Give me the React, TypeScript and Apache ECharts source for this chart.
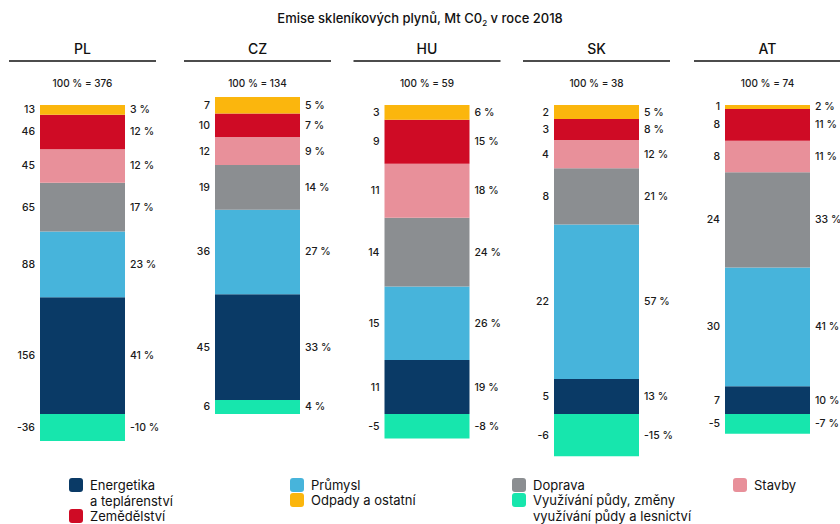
import React, { useEffect, useRef } from "react";
import * as echarts from "echarts";

// ---- data ----
const countries = ["PL", "CZ", "HU", "SK", "AT"];
const totals = [376, 134, 59, 38, 74];

const sectorNames = [
  "Využívání půdy, změny využívání půdy a lesnictví",
  "Energetika a teplárenství",
  "Průmysl",
  "Doprava",
  "Stavby",
  "Zemědělství",
  "Odpady a ostatní",
];

// Mt CO2 by sector (PL, CZ, HU, SK, AT)
const lulucf = [-36, 6, -5, -6, -5];
const energetika = [156, 45, 11, 5, 7];
const prumysl = [88, 36, 15, 22, 30];
const doprava = [65, 19, 14, 8, 24];
const stavby = [45, 12, 11, 4, 8];
const zemedelstvi = [46, 10, 9, 3, 8];
const odpady = [13, 7, 3, 2, 1];

// share of total, %
const lulucfPct = [-10, 4, -8, -15, -7];
const energetikaPct = [41, 33, 19, 13, 10];
const prumyslPct = [23, 27, 26, 57, 41];
const dopravaPct = [17, 14, 24, 21, 33];
const stavbyPct = [12, 9, 18, 12, 11];
const zemedelstviPct = [12, 7, 15, 8, 11];
const odpadyPct = [3, 5, 6, 5, 2];

// ---- styling / layout ----
const sectorColors = ["#17E6AD", "#0A3A66", "#47B4DB", "#8B8E91", "#E8909A", "#CF0B25", "#FBB60D"];
const panelCenters = [82.5, 257.5, 427, 596.5, 767.5];
const gridTops = [105, 97, 105, 105, 105];
const zeroY = 414;
const FONT = "Inter, 'Noto Sans', sans-serif";
const LABEL_COLOR = "#1a1a1a";

const values = [lulucf, energetika, prumysl, doprava, stavby, zemedelstvi, odpady];
const pcts = [lulucfPct, energetikaPct, prumyslPct, dopravaPct, stavbyPct, zemedelstviPct, odpadyPct];

const legendItems = [
  { k: 1, x: 69, y: 478, lines: ["Energetika", "a teplárenství"] },
  { k: 5, x: 69, y: 509, lines: ["Zemědělství"] },
  { k: 2, x: 290, y: 478, lines: ["Průmysl"] },
  { k: 6, x: 290, y: 493, lines: ["Odpady a ostatní"] },
  { k: 3, x: 512, y: 478, lines: ["Doprava"] },
  { k: 0, x: 512, y: 493, lines: ["Využívání půdy, změny", "využívání půdy a lesnictví"] },
  { k: 4, x: 733, y: 478, lines: ["Stavby"] },
];

export default function App() {
  const ref = useRef<HTMLDivElement>(null);

  useEffect(() => {
    if (!ref.current) return;
    const chart = echarts.init(ref.current, undefined, { renderer: "svg" });

    const grids: any[] = [];
    const xAxes: any[] = [];
    const yAxes: any[] = [];
    const series: any[] = [];
    const graphics: any[] = [];

    const labelBase = {
      show: true,
      color: LABEL_COLOR,
      textBorderWidth: 0,
      fontFamily: FONT,
      fontSize: 10.5,
      fontWeight: 500,
      distance: 5,
    };

    countries.forEach((c, i) => {
      const pos = values.reduce((s, arr) => s + (arr[i] > 0 ? arr[i] : 0), 0);
      const neg = values.reduce((s, arr) => s + (arr[i] < 0 ? arr[i] : 0), 0);
      const top = gridTops[i];
      const scale = (zeroY - top) / pos;
      const bottom = zeroY - neg * scale;
      grids.push({ left: panelCenters[i] - 60, width: 120, top, height: bottom - top });
      xAxes.push({ type: "category", gridIndex: i, data: [c], show: false });
      yAxes.push({ type: "value", gridIndex: i, min: neg, max: pos, show: false, splitLine: { show: false } });

      // visible stack, absolute values labelled on the left
      values.forEach((arr, k) => {
        series.push({
          type: "bar",
          name: sectorNames[k],
          xAxisIndex: i,
          yAxisIndex: i,
          stack: "abs" + i,
          barWidth: 85,
          barGap: "-100%",
          data: [arr[i]],
          itemStyle: { color: sectorColors[k] },
          label: { ...labelBase, position: "left", formatter: () => `${arr[i]}` },
        });
      });
      // overlaid transparent stack carrying the percentage labels on the right
      values.forEach((arr, k) => {
        series.push({
          type: "bar",
          name: sectorNames[k] + " (%)",
          xAxisIndex: i,
          yAxisIndex: i,
          stack: "pct" + i,
          barWidth: 85,
          barGap: "-100%",
          data: [arr[i]],
          silent: true,
          itemStyle: { color: "rgba(0,0,0,0)" },
          label: { ...labelBase, position: "right", formatter: () => `${pcts[k][i]} %` },
        });
      });

      const cx = panelCenters[i];
      graphics.push({
        type: "text",
        x: cx,
        y: 48,
        style: { text: c, align: "center", verticalAlign: "middle", fontFamily: FONT, fontSize: 14, fontWeight: 500, fill: "#111" },
      });
      graphics.push({
        type: "line",
        shape: { x1: cx - 73.5, y1: 61, x2: cx + 73.5, y2: 61 },
        style: { stroke: "#111", lineWidth: 1.5 },
      });
      graphics.push({
        type: "text",
        x: cx,
        y: 83,
        style: { text: `100 % = ${totals[i]}`, align: "center", verticalAlign: "middle", fontFamily: FONT, fontSize: 10, fontWeight: 500, fill: LABEL_COLOR },
      });
    });

    legendItems.forEach((it) => {
      graphics.push({
        type: "rect",
        shape: { x: it.x, y: it.y, width: 14, height: 14, r: 3 },
        style: { fill: sectorColors[it.k] },
      });
      it.lines.forEach((line, j) => {
        graphics.push({
          type: "text",
          x: it.x + 21,
          y: it.y + 7 + j * 16,
          style: {
            text: line,
            align: "left",
            verticalAlign: "middle",
            fontFamily: FONT,
            fontSize: 13,
            fill: "#111",
          },
        });
      });
    });

    chart.setOption({
      animation: false,
      backgroundColor: "#ffffff",
      title: {
        text: "Emise skleníkových plynů, Mt C0{sub|2} v roce 2018",
        left: "center",
        top: 9,
        padding: 0,
        textStyle: {
          fontFamily: FONT,
          fontSize: 13,
          fontWeight: 500,
          color: "#111",
          lineHeight: 18,
          rich: {
            sub: { fontFamily: FONT, fontSize: 8, fontWeight: 500, color: "#111", verticalAlign: "bottom", lineHeight: 18 },
          },
        },
      },
      grid: grids,
      xAxis: xAxes,
      yAxis: yAxes,
      series,
      graphic: graphics,
    });

    return () => chart.dispose();
  }, []);

  return <div ref={ref} style={{ position: "fixed", left: 0, top: 0, width: 840, height: 524 }} />;
}
